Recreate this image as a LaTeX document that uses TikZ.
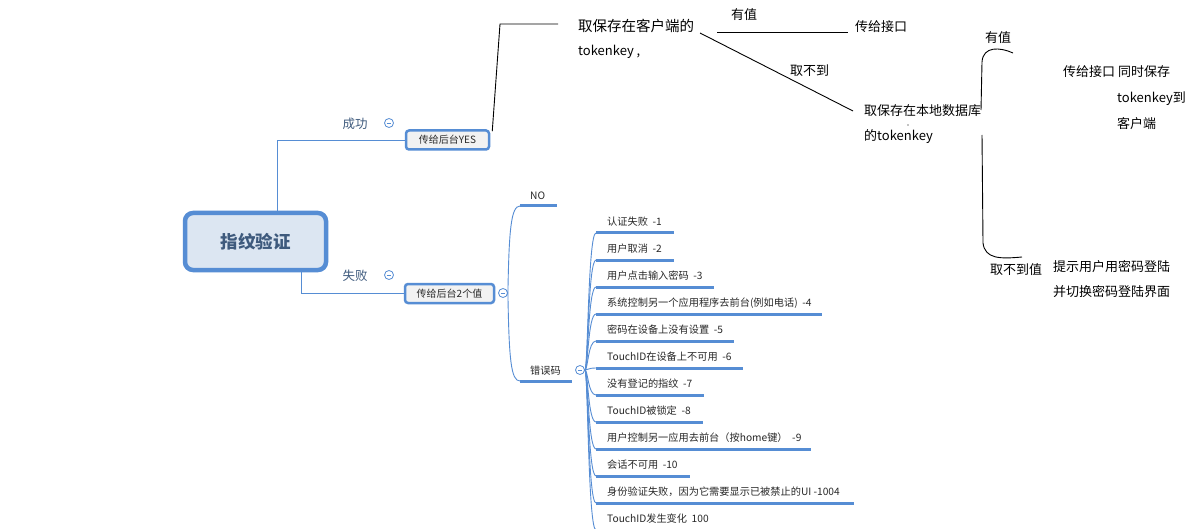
\documentclass[tikz,border=0pt]{standalone}
\usepackage{fontspec}
\setmainfont{Noto Sans CJK SC}
\definecolor{mblue}{RGB}{86,141,212}
\definecolor{rootfill}{RGB}{220,230,242}
\definecolor{roottext}{RGB}{62,90,125}
\definecolor{boxfill}{RGB}{242,242,242}
\definecolor{lbl}{RGB}{40,40,40}
\begin{document}
\begin{tikzpicture}[x=1pt,y=-1pt,
  rootbox/.style={draw=mblue,line width=4.5pt,fill=rootfill,rounded corners=8pt,minimum width=141pt,minimum height=57pt,text=roottext,font=\fontsize{17.5}{20}\selectfont\bfseries,inner sep=0pt},
  subbox/.style={draw=mblue,line width=2.5pt,fill=boxfill,rounded corners=3pt,minimum height=19pt,text=lbl,font=\fontsize{10}{12}\selectfont,inner sep=0pt},
  mlabel/.style={text=roottext,font=\fontsize{12.5}{14}\selectfont,inner sep=0pt},
  small/.style={text=lbl,font=\fontsize{10.2}{12}\selectfont,inner sep=0pt,anchor=west},
  hand/.style={text=black,font=\fontsize{13}{15}\selectfont,inner sep=0pt,anchor=west},
  mline/.style={draw=mblue,line width=0.9pt},
  uline/.style={draw=mblue,line width=3pt},
  pen/.style={draw=black,line width=0.9pt},
  fold/.style={circle,draw=mblue,line width=0.8pt,fill=white,minimum size=9pt,inner sep=0pt,path picture={\draw[mblue,line width=0.8pt] ([xshift=-2.3pt]path picture bounding box.center) -- ([xshift=2.3pt]path picture bounding box.center);}}
]
\useasboundingbox[fill=white] (0,0) rectangle (1190,529);

% ---------- mind map ----------
\node[rootbox] (root) at (255.5,241.5) {指纹验证};
\node[subbox,minimum width=83pt] (yes) at (447.5,140) {传给后台YES};
\node[subbox,minimum width=89pt] (two) at (449.5,293.5) {传给后台2个值};
\node[mlabel] (succ) at (355,124) {成功};
\node[mlabel] (fail) at (355,276) {失败};
\node[fold] (f1) at (389,123) {};
\node[fold] (f2) at (389,275) {};

\draw[mline] ([xshift=21.5pt]root.north) |- (yes.west);
\draw[mline] ([xshift=45.5pt]root.south) |- (two.west);

\node[fold] (f3) at (503,293) {};
\node[small] (no) at (530,196) {NO};
\node[small] (err) at (530,371) {错误码};
\node[fold] (f4) at (580,370) {};
\coordinate (nou) at (520,206);
\coordinate (erru) at (520,381);
\draw[uline] (nou) -- (557,206);
\draw[uline] (erru) -- (572,381);
\draw[mline] (f3.east) .. controls (509,230) and (511,206) .. (nou);
\draw[mline] (f3.east) .. controls (509,360) and (511,381) .. (erru);

% error codes
\foreach \i/\t/\e in {
  1/{认证失败 \ -1}/674,
  2/{用户取消 \ -2}/674,
  3/{用户点击输入密码 \ -3}/714,
  4/{系统控制另一个应用程序去前台(例如电话) \ -4}/822,
  5/{密码在设备上没有设置 \ -5}/734,
  6/{TouchID在设备上不可用 \ -6}/743,
  7/{没有登记的指纹 \ -7}/704,
  8/{TouchID被锁定 \ -8}/703,
  9/{用户控制另一应用去前台（按home键） \ -9}/811,
  10/{会话不可用 \ -10}/690,
  11/{身份验证失败，因为它需要显示已被禁止的UI -1004}/854,
  12/{TouchID发生变化 \ 100}/760}{
  \pgfmathsetmacro{\ty}{222+27*(\i-1)}
  \pgfmathsetmacro{\uy}{233+27*(\i-1)}
  \node[small] (e\i) at (607,\ty) {\t};
  \coordinate (u\i) at (596,\uy);
  \draw[uline] (u\i) -- (\e,\uy);
  \draw[mline] (f4.east) .. controls (588,370) and (588,\uy) .. (u\i);
}

% ---------- handwritten part ----------
\node[hand,font=\fontsize{14.5}{16}\selectfont] (c1) at (578,26) {取保存在客户端的};
\node[hand] (c2) at (578,52) {tokenkey ,};
\coordinate (hk1) at (500,24);
\coordinate (hk2) at (558,24);
\draw[pen] ([xshift=2pt,yshift=-2pt]yes.north east) -- (hk1) -- (hk2);

\node[hand] (v1) at (731,15) {有值};
\node[hand] (api1) at (855,27) {传给接口};
\coordinate (a1) at (717,32);
\coordinate (a2) at (848,32);
\draw[pen] (a1) -- (a2);

\coordinate (d1) at (700,33);
\coordinate (d2) at (853,111);
\draw[pen] (d1) -- (d2);
\node[hand] (nf1) at (790,71) {取不到};

\node[hand] (db1) at (864,111) {取保存在本地数据库};
\node[hand] (db2) at (864,137) {的tokenkey};
\fill (908,125) circle (0.6pt);

\draw[pen] (981,110) -- (982,62) .. controls (983,46) and (1000,47) .. (1013,53);
\draw[pen] (982,135) -- (983,243) .. controls (985,259) and (1000,259) .. (1022,257);
\node[hand] (v2) at (985,38) {有值};
\node[hand] (nf2) at (990,270) {取不到值};

\node[hand] (r1) at (1063,72) {传给接口 同时保存};
\node[hand] (r2) at (1117,99) {tokenkey到};
\node[hand] (r3) at (1117,124) {客户端};
\node[hand] (p1) at (1053,267) {提示用户用密码登陆};
\node[hand] (p2) at (1053,292) {并切换密码登陆界面};
\end{tikzpicture}
\end{document}
